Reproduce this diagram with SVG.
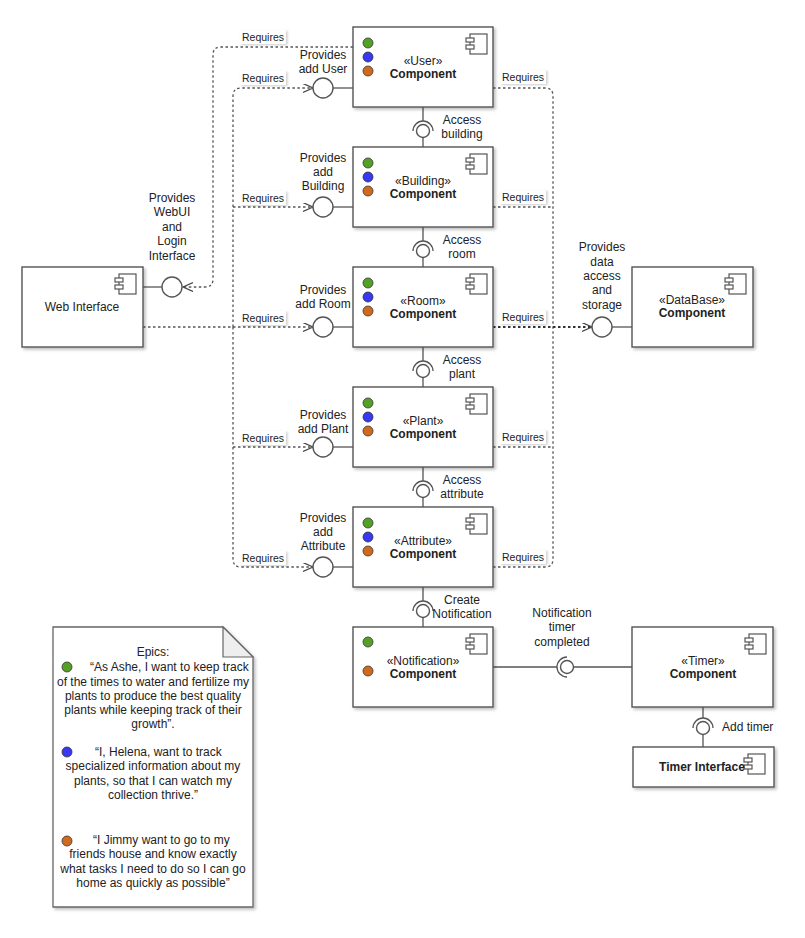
<svg xmlns="http://www.w3.org/2000/svg" xmlns:xlink="http://www.w3.org/1999/xlink" width="805" height="938" viewBox="0 0 805 938">
  <style>
    text { font-family: "Liberation Sans", Arial, sans-serif; fill: #222; }
    .lbl { font-size: 12px; }
    .mid { text-anchor: middle; }
    .req { font-size: 10.5px; }
    .bold { font-weight: bold; }
    .box { fill: #fff; stroke: #555; stroke-width: 1.4; }
    .solid { fill: none; stroke: #555; stroke-width: 1.3; }
    .dash { fill: none; stroke: #555; stroke-width: 1.3; stroke-dasharray: 2.5 2.5; }
    .heavy { stroke: #333; stroke-width: 1.8; }
    .ball { fill: #fff; stroke: #555; stroke-width: 1.4; }
    .tag { fill: #fff; }
    .g { fill: #55a126; stroke: #333; stroke-width: 0.8; }
    .b { fill: #3838f2; stroke: #333; stroke-width: 0.8; }
    .o { fill: #d06a1e; stroke: #333; stroke-width: 0.8; }
    .note { fill: #fff; stroke: #666; stroke-width: 1.3; }
  </style>
  <defs>
    <filter id="shadow" x="-10%" y="-10%" width="130%" height="130%">
      <feDropShadow dx="2" dy="2" stdDeviation="1.5" flood-color="#000" flood-opacity="0.25"/>
    </filter>
    <filter id="tagshadow" x="-10%" y="-20%" width="130%" height="150%">
      <feDropShadow dx="1.5" dy="1" stdDeviation="0.8" flood-color="#000" flood-opacity="0.2"/>
    </filter>
    <marker id="open" markerUnits="userSpaceOnUse" markerWidth="12" markerHeight="11" refX="10" refY="4.5" orient="auto">
      <path d="M0,0 L10,4.5 L0,9" fill="none" stroke="#444" stroke-width="1.2"/>
    </marker>
    <g id="icon">
      <rect x="4" y="0" width="17" height="20" fill="#fff" stroke="#555" stroke-width="1.2"/>
      <rect x="0" y="4" width="8" height="4" fill="#fff" stroke="#555" stroke-width="1.2"/>
      <rect x="0" y="11" width="8" height="4" fill="#fff" stroke="#555" stroke-width="1.2"/>
    </g>
  </defs>

  <!-- connectors -->
  <g id="connectors">
    <!-- User requires the web interface -->
    <path class="dash" d="M353,47 H221 Q213,47 213,55 V279 Q213,287 205,287 H183" marker-end="url(#open)"/>
    <!-- web interface requires each component -->
    <path class="dash" d="M143,327 H313" marker-end="url(#open)"/>
    <path class="dash" d="M233,327 V96 Q233,88 241,88 H313" marker-end="url(#open)"/>
    <path class="dash" d="M233,207 H313" marker-end="url(#open)"/>
    <path class="dash" d="M233,447 H313" marker-end="url(#open)"/>
    <path class="dash" d="M233,327 V559 Q233,567 241,567 H313" marker-end="url(#open)"/>
    <!-- components require the database -->
    <path class="dash" d="M493,88 H545 Q553,88 553,96 V327"/>
    <path class="dash" d="M493,207 H553"/>
    <path class="dash" d="M493,447 H553"/>
    <path class="dash" d="M493,567 H545 Q553,567 553,559 V327"/>
    <path class="dash heavy" d="M493,327 H592" marker-end="url(#open)"/>

    <!-- provided interfaces (lollipops) -->
    <line class="solid" x1="143" y1="287" x2="162" y2="287"/>
    <circle class="ball" cx="172" cy="287" r="10"/>
    <line class="solid" x1="333" y1="88" x2="353" y2="88"/>
    <circle class="ball" cx="323" cy="88" r="10"/>
    <line class="solid" x1="333" y1="207" x2="353" y2="207"/>
    <circle class="ball" cx="323" cy="207" r="10"/>
    <line class="solid" x1="333" y1="327" x2="353" y2="327"/>
    <circle class="ball" cx="323" cy="327" r="10"/>
    <line class="solid" x1="333" y1="447" x2="353" y2="447"/>
    <circle class="ball" cx="323" cy="447" r="10"/>
    <line class="solid" x1="333" y1="567" x2="353" y2="567"/>
    <circle class="ball" cx="323" cy="567" r="10"/>
    <line class="solid" x1="612" y1="327" x2="632" y2="327"/>
    <circle class="ball" cx="602" cy="327" r="10"/>

    <!-- ball and socket links between stacked components -->
    <g>
      <line class="solid" x1="423" y1="107" x2="423" y2="121"/>
      <path class="solid" d="M413,131 A10,10 0 0 1 433,131"/>
      <circle class="ball" cx="423" cy="131" r="6.5"/>
      <line class="solid" x1="423" y1="137.5" x2="423" y2="147"/>
    </g>
    <g>
      <line class="solid" x1="423" y1="227" x2="423" y2="241"/>
      <path class="solid" d="M413,251 A10,10 0 0 1 433,251"/>
      <circle class="ball" cx="423" cy="251" r="6.5"/>
      <line class="solid" x1="423" y1="257.5" x2="423" y2="267"/>
    </g>
    <g>
      <line class="solid" x1="423" y1="347" x2="423" y2="361"/>
      <path class="solid" d="M413,371 A10,10 0 0 1 433,371"/>
      <circle class="ball" cx="423" cy="371" r="6.5"/>
      <line class="solid" x1="423" y1="377.5" x2="423" y2="387"/>
    </g>
    <g>
      <line class="solid" x1="423" y1="467" x2="423" y2="481"/>
      <path class="solid" d="M413,491 A10,10 0 0 1 433,491"/>
      <circle class="ball" cx="423" cy="491" r="6.5"/>
      <line class="solid" x1="423" y1="497.5" x2="423" y2="507"/>
    </g>
    <g>
      <line class="solid" x1="423" y1="587" x2="423" y2="601"/>
      <path class="solid" d="M413,611 A10,10 0 0 1 433,611"/>
      <circle class="ball" cx="423" cy="611" r="6.5"/>
      <line class="solid" x1="423" y1="617.5" x2="423" y2="627"/>
    </g>
    <!-- notification / timer -->
    <g>
      <line class="solid" x1="493" y1="667" x2="557" y2="667"/>
      <path class="solid" d="M567,657 A10,10 0 0 0 567,677"/>
      <circle class="ball" cx="567" cy="667" r="6.5"/>
      <line class="solid" x1="573.5" y1="667" x2="632" y2="667"/>
    </g>
    <!-- timer / timer interface -->
    <g>
      <line class="solid" x1="703" y1="707" x2="703" y2="718"/>
      <path class="solid" d="M693,728 A10,10 0 0 1 713,728"/>
      <circle class="ball" cx="703" cy="728" r="6.5"/>
      <line class="solid" x1="703" y1="734.5" x2="703" y2="747"/>
    </g>

    <!-- connector labels -->
    <g class="req">
      <rect class="tag" x="240" y="30" width="46" height="14" filter="url(#tagshadow)"/>
      <text x="242" y="41">Requires</text>
      <rect class="tag" x="240" y="71" width="46" height="14" filter="url(#tagshadow)"/>
      <text x="242" y="82">Requires</text>
      <rect class="tag" x="240" y="191" width="46" height="14" filter="url(#tagshadow)"/>
      <text x="242" y="202">Requires</text>
      <rect class="tag" x="240" y="311" width="46" height="14" filter="url(#tagshadow)"/>
      <text x="242" y="322">Requires</text>
      <rect class="tag" x="240" y="431" width="46" height="14" filter="url(#tagshadow)"/>
      <text x="242" y="442">Requires</text>
      <rect class="tag" x="240" y="551" width="46" height="14" filter="url(#tagshadow)"/>
      <text x="242" y="562">Requires</text>
      <rect class="tag" x="500" y="70" width="46" height="14" filter="url(#tagshadow)"/>
      <text x="502" y="81">Requires</text>
      <rect class="tag" x="500" y="190" width="46" height="14" filter="url(#tagshadow)"/>
      <text x="502" y="201">Requires</text>
      <rect class="tag" x="500" y="310" width="46" height="14" filter="url(#tagshadow)"/>
      <text x="502" y="321">Requires</text>
      <rect class="tag" x="500" y="430" width="46" height="14" filter="url(#tagshadow)"/>
      <text x="502" y="441">Requires</text>
      <rect class="tag" x="500" y="550" width="46" height="14" filter="url(#tagshadow)"/>
      <text x="502" y="561">Requires</text>
    </g>
    <g class="lbl mid">
      <text x="172" y="202">Provides</text>
      <text x="172" y="216">WebUI</text>
      <text x="172" y="231">and</text>
      <text x="172" y="245">Login</text>
      <text x="172" y="260">Interface</text>

      <text x="323" y="59">Provides</text>
      <text x="323" y="73">add User</text>
      <text x="323" y="162">Provides</text>
      <text x="323" y="176">add</text>
      <text x="323" y="190">Building</text>
      <text x="323" y="294">Provides</text>
      <text x="323" y="308">add Room</text>
      <text x="323" y="419">Provides</text>
      <text x="323" y="433">add Plant</text>
      <text x="323" y="522">Provides</text>
      <text x="323" y="536">add</text>
      <text x="323" y="550">Attribute</text>

      <text x="602" y="251">Provides</text>
      <text x="602" y="266">data</text>
      <text x="602" y="280">access</text>
      <text x="602" y="294">and</text>
      <text x="602" y="309">storage</text>

      <text x="462" y="124">Access</text>
      <text x="462" y="138">building</text>
      <text x="462" y="244">Access</text>
      <text x="462" y="258">room</text>
      <text x="462" y="364">Access</text>
      <text x="462" y="378">plant</text>
      <text x="462" y="484">Access</text>
      <text x="462" y="498">attribute</text>
      <text x="462" y="604">Create</text>
      <text x="462" y="618">Notification</text>

      <text x="562" y="617">Notification</text>
      <text x="562" y="631">timer</text>
      <text x="562" y="646">completed</text>
    </g>
    <text class="lbl" x="722" y="731">Add timer</text>
  </g>

  <!-- components -->
  <g id="user">
    <rect class="box" x="353" y="27" width="140" height="80" filter="url(#shadow)"/>
    <use xlink:href="#icon" x="466" y="34"/>
    <circle class="g" cx="368" cy="43" r="5"/>
    <circle class="b" cx="368" cy="57" r="5"/>
    <circle class="o" cx="368" cy="71" r="5"/>
    <text class="lbl mid" x="423" y="65">«User»</text>
    <text class="lbl mid bold" x="423" y="78">Component</text>
  </g>
  <g id="building">
    <rect class="box" x="353" y="147" width="140" height="80" filter="url(#shadow)"/>
    <use xlink:href="#icon" x="466" y="154"/>
    <circle class="g" cx="368" cy="163" r="5"/>
    <circle class="b" cx="368" cy="177" r="5"/>
    <circle class="o" cx="368" cy="191" r="5"/>
    <text class="lbl mid" x="423" y="185">«Building»</text>
    <text class="lbl mid bold" x="423" y="198">Component</text>
  </g>
  <g id="room">
    <rect class="box" x="353" y="267" width="140" height="80" filter="url(#shadow)"/>
    <use xlink:href="#icon" x="466" y="274"/>
    <circle class="g" cx="368" cy="283" r="5"/>
    <circle class="b" cx="368" cy="297" r="5"/>
    <circle class="o" cx="368" cy="311" r="5"/>
    <text class="lbl mid" x="423" y="305">«Room»</text>
    <text class="lbl mid bold" x="423" y="318">Component</text>
  </g>
  <g id="plant">
    <rect class="box" x="353" y="387" width="140" height="80" filter="url(#shadow)"/>
    <use xlink:href="#icon" x="466" y="394"/>
    <circle class="g" cx="368" cy="403" r="5"/>
    <circle class="b" cx="368" cy="417" r="5"/>
    <circle class="o" cx="368" cy="431" r="5"/>
    <text class="lbl mid" x="423" y="425">«Plant»</text>
    <text class="lbl mid bold" x="423" y="438">Component</text>
  </g>
  <g id="attribute">
    <rect class="box" x="353" y="507" width="140" height="80" filter="url(#shadow)"/>
    <use xlink:href="#icon" x="466" y="514"/>
    <circle class="g" cx="368" cy="523" r="5"/>
    <circle class="b" cx="368" cy="537" r="5"/>
    <circle class="o" cx="368" cy="551" r="5"/>
    <text class="lbl mid" x="423" y="545">«Attribute»</text>
    <text class="lbl mid bold" x="423" y="558">Component</text>
  </g>
  <g id="notification">
    <rect class="box" x="353" y="627" width="140" height="80" filter="url(#shadow)"/>
    <use xlink:href="#icon" x="466" y="634"/>
    <circle class="g" cx="368" cy="642" r="5"/>
    <circle class="o" cx="368" cy="671" r="5"/>
    <text class="lbl mid" x="423" y="665">«Notification»</text>
    <text class="lbl mid bold" x="423" y="678">Component</text>
  </g>
  <g id="timer">
    <rect class="box" x="632" y="627" width="141" height="80" filter="url(#shadow)"/>
    <use xlink:href="#icon" x="745" y="634"/>
    <text class="lbl mid" x="703" y="665">«Timer»</text>
    <text class="lbl mid bold" x="703" y="678">Component</text>
  </g>
  <g id="timer-interface">
    <rect class="box" x="633" y="747" width="141" height="40" filter="url(#shadow)"/>
    <use xlink:href="#icon" x="744" y="754"/>
    <text class="lbl mid bold" x="702" y="771">Timer Interface</text>
  </g>
  <g id="database">
    <rect class="box" x="632" y="267" width="121" height="80" filter="url(#shadow)"/>
    <use xlink:href="#icon" x="725" y="274"/>
    <text class="lbl mid" x="692" y="304">«DataBase»</text>
    <text class="lbl mid bold" x="692" y="317">Component</text>
  </g>
  <g id="web-interface">
    <rect class="box" x="22" y="267" width="121" height="80" filter="url(#shadow)"/>
    <use xlink:href="#icon" x="115" y="274"/>
    <text class="lbl mid" x="82" y="311">Web Interface</text>
  </g>

  <!-- epics note -->
  <g id="epics">
    <path class="note" d="M53,627 H223 L253,657 V907 H53 Z" filter="url(#shadow)"/>
    <path d="M223,627 V657 H253 Z" fill="#eee" stroke="#666" stroke-width="1.2"/>
    <text class="lbl mid" x="153" y="656">Epics:</text>
    <circle class="g" cx="67" cy="667" r="5"/>
    <text class="lbl" x="90" y="671">“As Ashe, I want to keep track</text>
    <text class="lbl mid" x="153" y="686">of the times to water and fertilize my</text>
    <text class="lbl mid" x="153" y="700">plants to produce the best quality</text>
    <text class="lbl mid" x="153" y="714">plants while keeping track of their</text>
    <text class="lbl mid" x="153" y="728">growth”.</text>
    <circle class="b" cx="67" cy="752" r="5"/>
    <text class="lbl" x="95" y="756">“I, Helena, want to track</text>
    <text class="lbl mid" x="153" y="770">specialized information about my</text>
    <text class="lbl mid" x="153" y="785">plants, so that I can watch my</text>
    <text class="lbl mid" x="153" y="799">collection thrive.”</text>
    <circle class="o" cx="67" cy="841" r="5"/>
    <text class="lbl" x="93" y="844">“I Jimmy want to go to my</text>
    <text class="lbl mid" x="153" y="858">friends house and know exactly</text>
    <text class="lbl mid" x="153" y="873">what tasks I need to do so I can go</text>
    <text class="lbl mid" x="153" y="887">home as quickly as possible”</text>
  </g>
</svg>
